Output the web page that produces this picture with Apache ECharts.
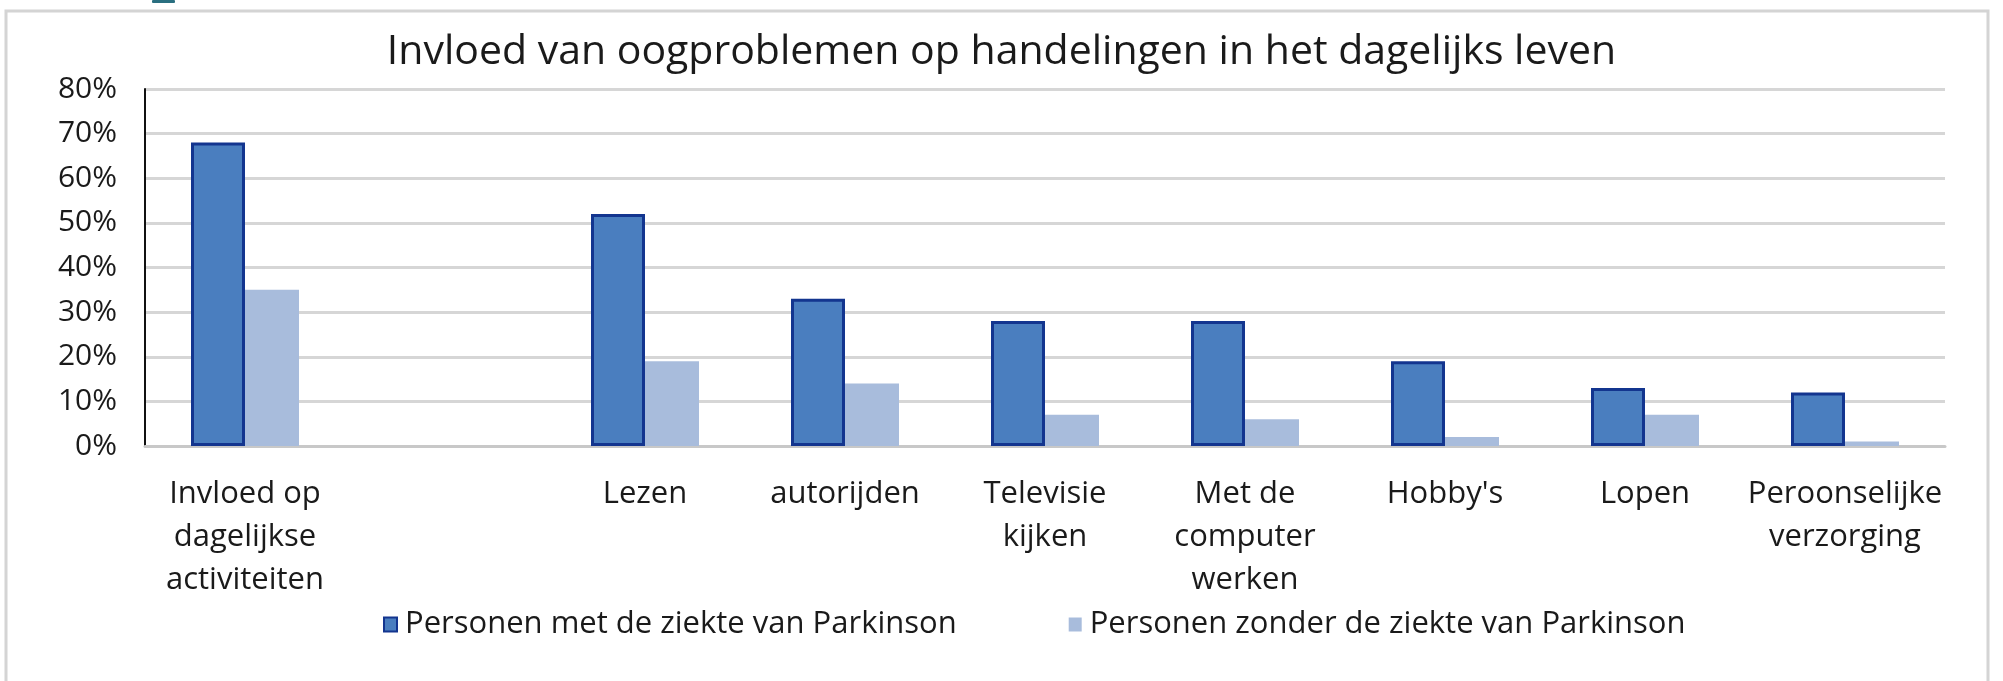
<!DOCTYPE html>
<html>
<head>
<meta charset="utf-8">
<script src="https://cdn.jsdelivr.net/npm/echarts@6/dist/echarts.min.js"></script>
<style>
html,body{margin:0;padding:0;background:#fff;}
#chart{width:2003px;height:681px;}
</style>
</head>
<body>
<div id="chart"></div>
<script>
const titleText = 'Invloed van oogproblemen op handelingen in het dagelijks leven';
const categories = ['Invloed op\ndagelijkse\nactiviteiten', '', 'Lezen', 'autorijden', 'Televisie\nkijken', 'Met de\ncomputer\nwerken', "Hobby's", 'Lopen', 'Peroonselijke\nverzorging'];
const seriesNames = ['Personen met de ziekte van Parkinson', 'Personen zonder de ziekte van Parkinson'];
const withParkinson = [68, null, 52, 33, 28, 28, 19, 13, 12];
const withoutParkinson = [35, null, 19, 14, 7, 6, 2, 7, 1];
const yTicks = [0, 10, 20, 30, 40, 50, 60, 70, 80];

const FONT = 'Open Sans';
const chart = echarts.init(document.getElementById('chart'), null, {renderer: 'canvas'});
chart.setOption({
  animation: false,
  backgroundColor: '#ffffff',
  textStyle: {fontFamily: FONT},
  title: {
    text: titleText,
    left: 'center',
    top: 27,
    textStyle: {fontFamily: FONT, fontSize: 41, fontWeight: 'normal', color: '#1a1a1a'}
  },
  graphic: [
    {type: 'rect', shape: {x: 6, y: 11, width: 1982, height: 700}, style: {fill: 'none', stroke: '#d4d4d4', lineWidth: 3}, z: 0},
    {type: 'rect', shape: {x: 152, y: 0, width: 23, height: 3, r: 1}, style: {fill: '#2a6f80'}, z: 1}
  ],
  legend: {
    bottom: 36,
    left: 378,
    itemWidth: 13,
    itemHeight: 14,
    itemGap: 112,
    icon: 'rect',
    textStyle: {fontFamily: FONT, fontSize: 31, color: '#1a1a1a', padding: [0, 0, 0, 3]},
    data: seriesNames
  },
  grid: {left: 145, right: 58, top: 89, bottom: 235, containLabel: false},
  xAxis: {
    type: 'category',
    data: categories,
    axisTick: {show: false},
    axisLine: {show: true, lineStyle: {color: '#c8c8c8', width: 3}},
    axisLabel: {interval: 0, fontFamily: FONT, fontSize: 31, color: '#1a1a1a', lineHeight: 43, margin: 27, verticalAlign: 'top'}
  },
  yAxis: {
    type: 'value',
    min: 0,
    max: 80,
    interval: 10,
    axisLine: {show: true, lineStyle: {color: '#111', width: 2}},
    axisTick: {show: false},
    splitLine: {lineStyle: {color: '#d6d6d6', width: 3}},
    axisLabel: {fontFamily: FONT, fontSize: 30, color: '#1a1a1a', margin: 28, formatter: v => yTicks.includes(v) ? v + '%' : ''}
  },
  series: [
    {
      name: seriesNames[0], type: 'bar', data: withParkinson, barWidth: 54, barGap: '0%',
      itemStyle: {color: '#4a7ebf', borderColor: '#13358f', borderWidth: 3}
    },
    {
      name: seriesNames[1], type: 'bar', data: withoutParkinson, barWidth: 54, barGap: '0%',
      itemStyle: {color: '#a8bcdc', borderColor: '#a8bcdc', borderWidth: 0}
    }
  ]
});
</script>
</body>
</html>
